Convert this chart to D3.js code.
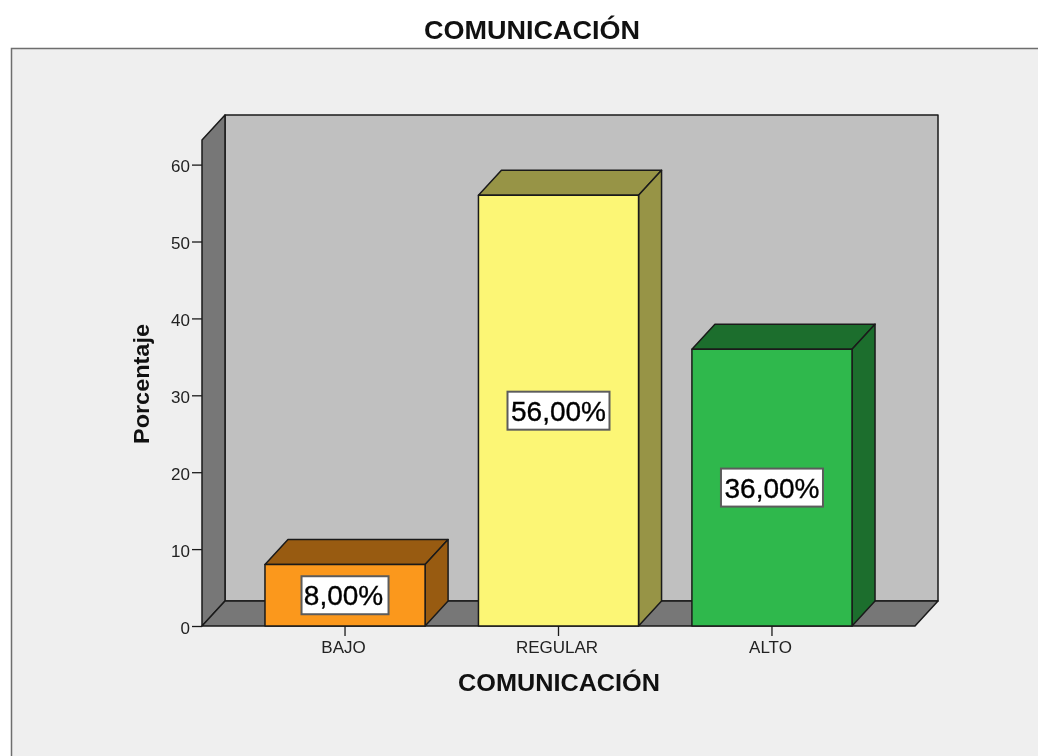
<!DOCTYPE html>
<html><head><meta charset="utf-8">
<script src="https://cdnjs.cloudflare.com/ajax/libs/d3/7.8.5/d3.min.js"></script>
<style>html,body{margin:0;padding:0;background:#fff;overflow:hidden}text{font-family:"Liberation Sans",Arial,sans-serif}svg{display:block;filter:blur(0.4px)}</style>
</head><body><svg id="c" width="1038" height="756"></svg>
<script>
const categories = ["BAJO","REGULAR","ALTO"];
const values = [8,56,36];
const valueLabels = ["8,00%","56,00%","36,00%"];
const frontColors = ["#fb981c","#fcf675","#2fb84c"];
const sideColors = ["#985b11","#979446","#1c6e2d"];
const yTicks = [0,10,20,30,40,50,60];
const title = "COMUNICACIÓN", xTitle = "COMUNICACIÓN", yTitle = "Porcentaje";

const svg = d3.select("#c");
const dx = 23, dy = -25, stroke = "#1a1a1a";
const x = d3.scaleBand().domain(categories).range([202,915]).paddingInner(0.25).paddingOuter(0.295);
const y = d3.scaleLinear().domain([0,63.2]).range([626,140]);
const poly = (pts, fill, g=svg) => g.append("polygon").attr("points", pts.map(p=>p.join(",")).join(" "))
  .attr("fill",fill).attr("stroke",stroke).attr("stroke-width",1.5).attr("stroke-linejoin","round");

// panel
svg.append("rect").attr("x",11.5).attr("y",48.5).attr("width",1040).attr("height",720)
  .attr("fill","#efefef").attr("stroke","#6e6e6e").attr("stroke-width",1.5);

svg.append("text").attr("x",532).attr("y",39).attr("text-anchor","middle")
  .attr("font-size",25).attr("textLength",216).attr("lengthAdjust","spacingAndGlyphs")
  .attr("font-weight","bold").attr("fill","#111").text(title);

// 3D walls
const [x0,x1] = x.range(), yb = y(0), yt = y(y.domain()[1]);
poly([[x0+dx,yt+dy],[x1+dx,yt+dy],[x1+dx,yb+dy],[x0+dx,yb+dy]],"#c0c0c0");
poly([[x0,yt],[x0+dx,yt+dy],[x0+dx,yb+dy],[x0,yb]],"#777777");
poly([[x0,yb],[x0+dx,yb+dy],[x1+dx,yb+dy],[x1,yb]],"#777777");

// axes
const yAxis = svg.append("g").attr("transform",`translate(${x0},0)`)
  .call(d3.axisLeft(y).tickValues(yTicks).tickSize(10).tickPadding(2));
yAxis.select(".domain").remove();
yAxis.selectAll("line").attr("stroke",stroke).attr("stroke-width",1.3);
yAxis.selectAll("text").attr("font-size",17).attr("dy","0.43em").attr("fill","#222").attr("font-family","Liberation Sans");

const xAxis = svg.append("g").attr("transform",`translate(0,${yb})`)
  .call(d3.axisBottom(x).tickSize(10).tickPadding(4));
xAxis.select(".domain").remove();
xAxis.selectAll("line").attr("stroke",stroke).attr("stroke-width",1.3);
xAxis.selectAll("text").attr("font-size",17).attr("dy","0.78em").attr("dx",-1.5).attr("fill","#222").attr("font-family","Liberation Sans");

// bars
categories.forEach((c,i)=>{
  const l = x(c), r = l + x.bandwidth(), t = y(values[i]);
  poly([[l,t],[l+dx,t+dy],[r+dx,t+dy],[r,t]],sideColors[i]);
  poly([[r,t],[r+dx,t+dy],[r+dx,yb+dy],[r,yb]],sideColors[i]);
  poly([[l,t],[r,t],[r,yb],[l,yb]],frontColors[i]);
});

// axis titles
svg.append("text").attr("x",559).attr("y",691).attr("text-anchor","middle")
  .attr("font-size",23).attr("textLength",202).attr("lengthAdjust","spacingAndGlyphs")
  .attr("font-weight","bold").attr("fill","#111").text(xTitle);
svg.append("text").attr("transform","translate(149,384) rotate(-90)").attr("text-anchor","middle")
  .attr("font-size",22).attr("textLength",120).attr("lengthAdjust","spacingAndGlyphs")
  .attr("font-weight","bold").attr("fill","#111").text(yTitle);

// value labels
categories.forEach((c,i)=>{
  const short = valueLabels[i].length===5;
  const cx = x(c)+x.bandwidth()/2, cy = y(values[i]/2);
  const w = short ? 87 : 102, h = 38;
  svg.append("rect").attr("x",cx-w/2).attr("y",cy-h/2).attr("width",w).attr("height",h)
    .attr("fill","#fff").attr("stroke","#5c5c5c").attr("stroke-width",2);
  svg.append("text").attr("x",cx-(short?1.5:0)).attr("y",cy+10).attr("text-anchor","middle")
    .attr("font-size",28).attr("fill","#000").attr("stroke","#000").attr("stroke-width",0.35).text(valueLabels[i]);
});
</script></body></html>
